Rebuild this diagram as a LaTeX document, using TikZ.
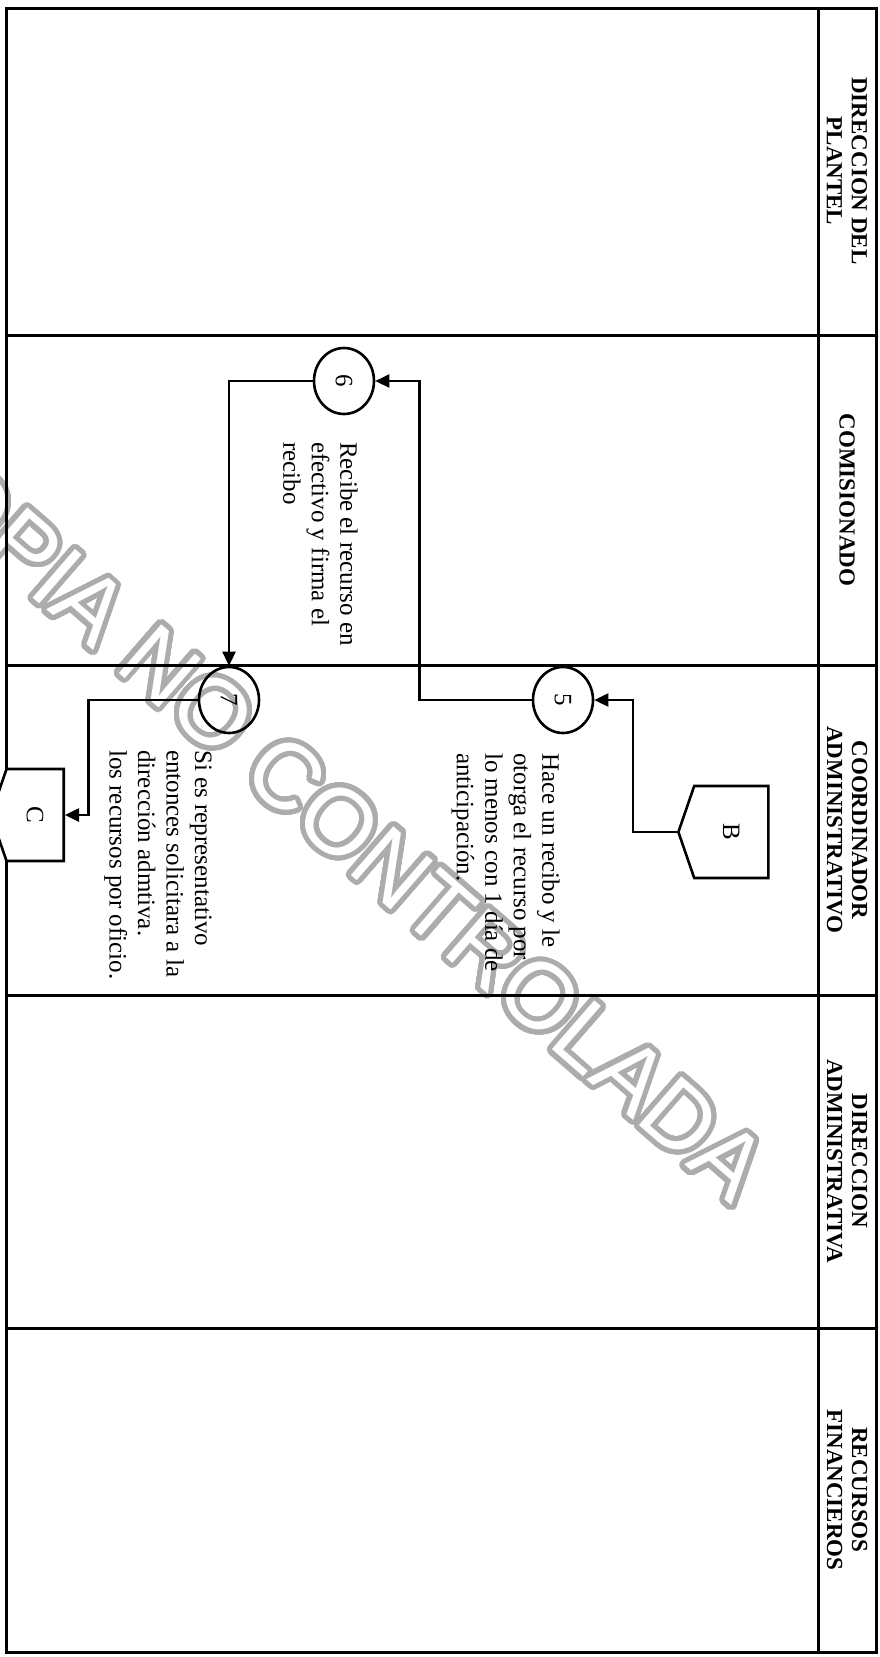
\documentclass[tikz,border=0pt]{standalone}
\usepackage{fontspec}
\setmainfont{Liberation Serif}
\newfontfamily\markfont{Liberation Sans}
\usepackage{graphicx}
\usepackage{contour}
\usetikzlibrary{positioning, arrows.meta, shapes.symbols, shapes.geometric}
\contourlength{5pt}
\contournumber{48}
\tikzset{
  lane line/.style={line width=3pt},
  lane title/.style={
    rotate=-90,
    align=center,
    inner sep=0pt,
    font=\fontsize{23}{25}\selectfont\bfseries
  },
  step circle/.style={
    ellipse, draw,
    line width=2.6pt,
    minimum width=60pt, minimum height=66pt,
    inner sep=0pt,
    font=\fontsize{25}{28}\selectfont
  },
  step text/.style={
    rotate=-90,
    anchor=north west,
    align=left,
    inner sep=0pt,
    font=\fontsize{25}{28.5}\selectfont
  },
  offpage/.style={
    signal, signal to=west, signal pointer angle=142,
    draw, fill=white,
    line width=2.6pt,
    minimum height=92pt,
    inner sep=0pt,
    font=\fontsize{25}{28}\selectfont
  },
  flow/.style={
    line width=2.6pt,
    -{Triangle[length=14pt, width=13pt]}
  }
}

\begin{document}
\begin{tikzpicture}[x=1pt, y=-1pt]
  \useasboundingbox (0,0) rectangle (879,1657);

  % Watermark
  \node[text=white, rotate=-41, font=\markfont\fontsize{94}{94}\selectfont] (mark) at (322,810) {\contour{gray!65}{COPIA NO CONTROLADA}};

  % Frame and lanes
  \draw[lane line] (6,8) rectangle (876,1652);
  \draw[lane line] (818,8) -- (818,1652);
  \foreach \y in {335,665,995,1328}
    \draw[lane line] (6,\y) -- (876,\y);

  % Lane titles
  \node[lane title] (plantel) at (847,171) {DIRECCION DEL\\PLANTEL};
  \node[lane title] (comis) at (847,500) {COMISIONADO};
  \node[lane title] (coord) at (847,830) {COORDINADOR\\ADMINISTRATIVO};
  \node[lane title] (diradm) at (847,1161) {DIRECCION\\ADMINISTRATIVA};
  \node[lane title] (recfin) at (847,1490) {RECURSOS\\FINANCIEROS};

  % Steps
  \node[offpage, minimum width=90pt, anchor=west] (pageB) at (677,832) {\rotatebox{-90}{B}};
  \node[step circle] (s5) at (563,700) {\rotatebox{-90}{5}};
  \node[step circle] (s6) at (344,381) {\rotatebox{-90}{6}};
  \node[step circle] (s7) at (229,700) {\rotatebox{-90}{7}};
  \node[offpage, minimum width=73pt, anchor=east] (pageC) at (65,815) {\rotatebox{-90}{C}};

  \node[step text] (t5) at (560,753) {Hace un recibo y le\\otorga el recurso por\\lo menos con 1 día de\\anticipación.};
  \node[step text] (t6) at (358,442) {Recibe el recurso en\\efectivo y firma el\\recibo};
  \node[step text] (t7) at (212,750) {Si es representativo\\entonces solicitara a la\\dirección admtiva.\\los recursos por oficio.};

  % Flow
  \draw[flow] (pageB.west) -- ++(-44,0) |- (s5.east);
  \draw[flow] (s5.west) -- ++(-112,0) |- (s6.east);
  \draw[flow] (s6.west) -| (s7.north);
  \draw[flow] (s7.west) -- ++(-109,0) |- (pageC.east);
\end{tikzpicture}
\end{document}
